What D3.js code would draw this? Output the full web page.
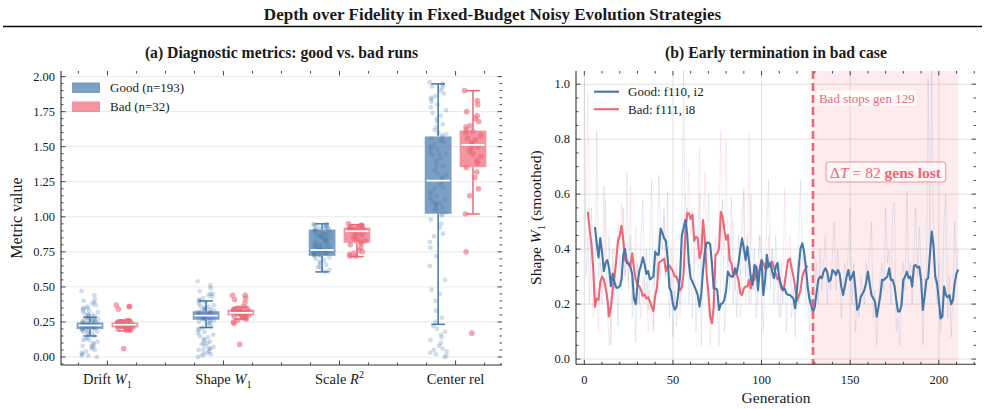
<!DOCTYPE html>
<html><head><meta charset="utf-8">
<script src="https://cdn.jsdelivr.net/npm/d3@7"></script>
<style>
body{margin:0;background:#fff}
svg{display:block}
text{font-family:"Liberation Serif","Times New Roman",serif;fill:#1a1a1a}
</style>
</head><body>
<svg id="c" width="985" height="409"></svg>
<script>
// ---------------- DATA ----------------
const categories = ["Drift $W_1$", "Shape $W_1$", "Scale $R^2$", "Center rel"];
const seriesNames = ["Good (n=193)", "Bad (n=32)"];
// box stats per category: [q1, median, q3, whiskerLow, whiskerHigh]
const goodStats = [[0.198,0.225,0.248,0.150,0.283],[0.264,0.295,0.328,0.210,0.400],[0.720,0.763,0.911,0.607,0.950],[1.020,1.258,1.575,0.233,1.948]];
const badStats  = [[0.209,0.230,0.248,0.186,0.264],[0.295,0.315,0.340,0.270,0.355],[0.813,0.897,0.925,0.716,0.944],[1.353,1.513,1.617,1.020,1.900]];
// individual run values (points)
const goodDrift = [0.47,0.44,0.41,0.40,0.39,0.38,0.37,0.36,0.35,0.34,0.33,0.33,0.32,0.31,0.30,0.30,0.29,0.29,0.28,0.28,0.27,0.27,0.27,0.26,0.26,0.26,0.25,0.25,0.25,0.25,0.24,0.24,0.24,0.24,0.23,0.23,0.23,0.23,0.23,0.22,0.22,0.22,0.22,0.22,0.21,0.21,0.21,0.21,0.20,0.20,0.20,0.20,0.19,0.19,0.18,0.18,0.17,0.17,0.16,0.15,0.14,0.13,0.12,0.11,0.10,0.09,0.08,0.07,0.06,0.05,0.04,0.03,0.02,0.01,0.01,0.00,0.12,0.08,0.35,0.30];
const badDrift = [0.37,0.36,0.36,0.34,0.26,0.26,0.25,0.25,0.25,0.24,0.24,0.24,0.23,0.23,0.23,0.23,0.22,0.22,0.22,0.22,0.21,0.21,0.21,0.20,0.20,0.20,0.19,0.19,0.25,0.24,0.22,0.06];
const goodShape = [0.54,0.51,0.49,0.47,0.45,0.44,0.43,0.42,0.41,0.40,0.39,0.38,0.37,0.36,0.36,0.35,0.35,0.34,0.34,0.33,0.33,0.33,0.32,0.32,0.32,0.31,0.31,0.31,0.30,0.30,0.30,0.30,0.29,0.29,0.29,0.29,0.28,0.28,0.28,0.27,0.27,0.27,0.26,0.26,0.25,0.25,0.24,0.23,0.22,0.21,0.20,0.19,0.18,0.17,0.16,0.15,0.14,0.13,0.12,0.11,0.10,0.09,0.08,0.07,0.06,0.06,0.05,0.04,0.03,0.02,0.01,0.00,0.30,0.28,0.32,0.45,0.40,0.10,0.05,0.02];
const badShape = [0.44,0.44,0.42,0.41,0.39,0.36,0.35,0.35,0.34,0.34,0.34,0.33,0.33,0.33,0.32,0.32,0.32,0.31,0.31,0.31,0.30,0.30,0.30,0.29,0.29,0.28,0.28,0.27,0.26,0.25,0.24,0.09];
const goodScale = [0.95,0.95,0.94,0.94,0.93,0.93,0.92,0.92,0.91,0.91,0.90,0.90,0.89,0.89,0.88,0.88,0.87,0.87,0.86,0.86,0.85,0.85,0.84,0.84,0.83,0.83,0.82,0.82,0.81,0.81,0.80,0.80,0.79,0.79,0.78,0.78,0.77,0.77,0.77,0.76,0.76,0.76,0.76,0.75,0.75,0.75,0.74,0.74,0.74,0.73,0.73,0.73,0.72,0.72,0.71,0.70,0.69,0.68,0.67,0.66,0.65,0.64,0.63,0.62,0.61,0.92,0.90,0.88,0.85,0.80,0.77,0.75,0.74,0.73,0.94,0.91,0.87,0.83,0.79,0.76];
const badScale = [0.95,0.94,0.94,0.93,0.93,0.93,0.92,0.92,0.92,0.91,0.91,0.91,0.90,0.90,0.89,0.89,0.88,0.87,0.86,0.85,0.84,0.83,0.82,0.81,0.80,0.78,0.76,0.75,0.74,0.73,0.72,0.72];
const goodCenter = [1.96,1.95,1.94,1.93,1.92,1.90,1.88,1.86,1.84,1.82,1.80,1.78,1.76,1.74,1.72,1.70,1.68,1.66,1.64,1.62,1.60,1.59,1.58,1.57,1.56,1.55,1.54,1.53,1.52,1.50,1.49,1.48,1.46,1.45,1.44,1.42,1.40,1.38,1.36,1.35,1.33,1.31,1.30,1.28,1.27,1.26,1.25,1.23,1.21,1.20,1.18,1.16,1.15,1.13,1.12,1.11,1.10,1.09,1.08,1.07,1.06,1.05,1.04,1.03,1.02,1.01,0.98,0.95,0.92,0.88,0.86,0.82,0.78,0.72,0.65,0.55,0.48,0.45,0.40,0.33,0.28,0.25,0.22,0.20,0.18,0.16,0.14,0.12,0.10,0.08,0.06,0.05,0.04,0.03,0.02,0.01,0.00,1.85,1.45,1.10];
const badCenter = [1.90,1.83,1.80,1.75,1.72,1.70,1.68,1.65,1.64,1.62,1.61,1.60,1.58,1.56,1.55,1.53,1.52,1.50,1.49,1.47,1.45,1.43,1.40,1.38,1.35,1.32,1.28,1.20,1.15,1.02,0.75,0.17];
const goodPoints = [goodDrift, goodShape, goodScale, goodCenter];
const badPoints = [badDrift, badShape, badScale, badCenter];
const leftYTicks = [0,0.25,0.5,0.75,1.0,1.25,1.5,1.75,2.0];

// panel (b): W1 per generation
const goodRawStart = 0;
const goodRaw = [1.02,0.30,0.45,0.20,0.55,0.35,0.25,0.83,0.30,0.42,
0.20,0.63,0.38,0.15,0.45,0.05,0.40,0.22,0.35,0.12,
0.38,0.25,0.55,0.30,0.68,0.28,0.45,0.15,0.30,0.06,
0.35,0.20,0.45,0.58,0.25,0.40,0.18,0.42,0.65,0.10,
0.40,0.30,0.67,0.50,0.40,0.55,0.30,0.61,0.15,0.30,
0.08,0.25,0.12,0.30,0.20,0.45,1.05,0.40,0.55,0.20,
0.35,0.15,0.40,0.10,0.30,0.60,0.05,0.35,0.45,0.30,
0.60,0.40,0.30,0.15,0.35,0.20,0.05,0.30,0.58,0.10,
0.22,0.40,0.25,0.59,0.20,0.35,0.15,0.45,0.30,0.55,
0.61,0.30,0.45,0.20,0.60,0.25,0.40,0.15,0.35,0.45,
0.30,0.10,0.35,0.50,0.65,0.25,0.40,0.20,0.45,0.30,
0.15,0.35,0.20,0.30,0.10,0.28,0.35,0.15,0.25,0.08,
0.30,0.45,0.65,0.35,0.40,0.20,0.30,0.10,0.25,0.05,
0.25,0.35,0.20,0.40,0.25,0.35,0.45,0.20,0.30,0.25,
0.38,0.50,0.25,0.40,0.30,0.15,0.25,0.35,0.30,0.40,
0.55,0.20,0.35,0.10,0.20,0.15,0.30,0.25,0.20,0.35,
0.30,0.40,0.50,0.15,0.25,0.05,0.20,0.30,0.35,0.25,
0.55,0.35,0.40,0.20,0.55,0.57,0.10,0.15,0.05,0.30,
0.35,0.25,0.61,0.30,0.35,0.20,0.40,0.55,0.30,0.48,
0.35,0.05,0.30,0.25,1.02,0.40,1.05,0.45,0.30,0.20,
0.35,0.10,0.20,0.50,0.60,0.15,0.30,0.08,0.25,0.50,
0.30,0.40];
const badRawStart = 0;
const badRaw = [0.40,0.60,0.97,0.45,0.30,0.15,0.20,0.25,0.10,0.35,
0.30,0.25,0.58,0.20,0.05,0.15,0.30,0.40,0.35,0.50,
0.40,0.57,0.45,0.30,0.35,0.25,0.63,0.20,0.30,0.48,
0.20,0.25,0.15,0.30,0.20,0.28,0.10,0.25,0.15,0.12,
0.30,0.35,0.45,0.30,0.40,0.52,0.30,0.35,0.25,0.40,
0.30,0.20,0.35,0.25,0.15,0.30,0.45,0.60,0.50,0.69,
0.45,0.55,0.40,0.35,0.50,0.77,0.30,0.45,0.68,0.25,
0.20,0.05,0.15,0.25,0.45,0.40,0.50,0.83,0.45,0.40,
0.80,0.35,0.40,0.30,0.50,0.25,0.35,0.20,0.15,0.30,
0.62,0.20,0.25,0.82,0.20,0.30,0.25,0.35,0.20,0.45,
0.40,0.30,0.35,0.25,0.45,0.30,0.40,0.35,0.25,0.20,
0.35,0.15,0.25,0.62,0.30,0.40,0.45,0.25,0.20,0.15,
0.25,0.20,0.35,0.30,0.40,0.25,0.30,0.20,0.35];
const goodSmoothStart = 6;
const goodSmooth = [0.48,0.42,0.37,0.44,0.39,0.32,0.35,0.36,0.33,0.265,
0.31,0.28,0.26,0.26,0.265,0.29,0.38,0.40,0.35,0.345,
0.335,0.31,0.22,0.20,0.27,0.32,0.34,0.37,0.345,0.31,
0.32,0.29,0.295,0.30,0.39,0.38,0.38,0.475,0.46,0.44,
0.43,0.37,0.26,0.245,0.20,0.18,0.19,0.24,0.30,0.45,
0.476,0.506,0.457,0.348,0.294,0.282,0.266,0.251,0.233,0.191,
0.239,0.324,0.391,0.423,0.424,0.418,0.348,0.257,0.257,0.251,
0.179,0.20,0.203,0.215,0.251,0.318,0.306,0.30,0.30,0.33,
0.312,0.348,0.397,0.439,0.403,0.36,0.409,0.354,0.294,0.27,
0.342,0.336,0.251,0.324,0.36,0.233,0.288,0.379,0.336,0.348,
0.318,0.294,0.336,0.35,0.29,0.27,0.251,0.257,0.239,0.233,
0.233,0.227,0.22,0.185,0.251,0.336,0.403,0.421,0.39,0.336,
0.264,0.22,0.197,0.17,0.19,0.239,0.288,0.30,0.294,0.318,
0.33,0.318,0.282,0.288,0.324,0.318,0.306,0.324,0.312,0.264,
0.233,0.264,0.30,0.324,0.288,0.30,0.318,0.251,0.179,0.191,
0.227,0.239,0.251,0.276,0.318,0.276,0.233,0.221,0.209,0.154,
0.191,0.23,0.288,0.288,0.294,0.30,0.33,0.288,0.288,0.266,
0.215,0.173,0.173,0.197,0.288,0.30,0.318,0.294,0.30,0.264,
0.339,0.342,0.333,0.336,0.288,0.179,0.227,0.288,0.294,0.379,
0.464,0.415,0.30,0.276,0.215,0.148,0.154,0.264,0.233,0.224,
0.233,0.20,0.215,0.276,0.312,0.326];
const badSmoothStart = 2;
const badSmooth = [0.536,0.47,0.42,0.33,0.19,0.22,0.215,0.28,0.30,0.29,
0.26,0.22,0.155,0.19,0.25,0.30,0.36,0.43,0.45,0.485,
0.43,0.36,0.355,0.35,0.34,0.385,0.33,0.29,0.27,0.265,
0.25,0.23,0.235,0.22,0.225,0.21,0.19,0.175,0.23,0.26,
0.35,0.355,0.36,0.365,0.32,0.34,0.34,0.33,0.32,0.30,
0.30,0.28,0.25,0.26,0.31,0.46,0.53,0.53,0.51,0.525,
0.43,0.445,0.44,0.367,0.39,0.506,0.434,0.312,0.239,0.154,
0.13,0.19,0.379,0.385,0.40,0.536,0.518,0.47,0.434,0.452,
0.36,0.348,0.306,0.312,0.306,0.288,0.239,0.233,0.257,0.264,
0.264,0.288,0.257,0.306,0.288,0.336,0.30,0.33,0.36,0.35,
0.33,0.33,0.34,0.35,0.355,0.33,0.31,0.29,0.30,0.26,
0.25,0.27,0.32,0.36,0.365,0.33,0.30,0.26,0.21,0.23,
0.25,0.30,0.32,0.33,0.34];
const lineNames = ["Good: f110, i2", "Bad: f111, i8"];
const stopGen = 129;
const endGen = 211;
const rightYTicks = [0,0.2,0.4,0.6,0.8,1.0];
const rightXTicks = [0,50,100,150,200];

// ---------------- DRAW ----------------
const BLUE = "#4477AA", RED = "#EE6677", INK = "#333";
const svg = d3.select("#c");

function rich(sel, s, fs) {
  let math = false, shift = 0; const segs = [];
  for (let i = 0; i < s.length; i++) {
    const c = s[i];
    if (c === "$") { math = !math; continue; }
    if (math && (c === "_" || c === "^")) { segs.push({t: s[i+1], mode: c === "_" ? "sub" : "sup"}); i++; continue; }
    const it = math && /[A-Za-z]/.test(c);
    const last = segs[segs.length-1];
    if (last && last.mode === "n" && last.it === it) last.t += c; else segs.push({t: c, mode: "n", it});
  }
  segs.forEach(g => {
    const ts = sel.append("tspan").text(g.t);
    const target = g.mode === "sub" ? 0.28*fs : g.mode === "sup" ? -0.38*fs : 0;
    if (target - shift !== 0) ts.attr("dy", target - shift);
    shift = target;
    if (g.mode !== "n") ts.attr("font-size", fs*0.7);
    if (g.it) ts.attr("font-style", "italic");
  });
}

// Title
svg.append("text").attr("x", 492.5).attr("y", 20).attr("text-anchor","middle")
  .attr("font-size", 17).attr("font-weight","bold").text("Depth over Fidelity in Fixed-Budget Noisy Evolution Strategies");
svg.append("line").attr("x1", 3).attr("x2", 982).attr("y1", 26.5).attr("y2", 26.5).attr("stroke","#000").attr("stroke-width",1.6);

function ticksAll(g, x, y, xMaj, xMin, yMaj, yMin, x0, x1, y0, y1) {
  const M = 4.5, m = 2.5;
  const t = g.append("g").attr("stroke", INK).attr("stroke-width", 0.9);
  yMaj.forEach(v => { t.append("line").attr("x1",x0).attr("x2",x0+M).attr("y1",y(v)).attr("y2",y(v));
                      t.append("line").attr("x1",x1).attr("x2",x1-M).attr("y1",y(v)).attr("y2",y(v)); });
  yMin.forEach(v => { t.append("line").attr("x1",x0).attr("x2",x0+m).attr("y1",y(v)).attr("y2",y(v));
                      t.append("line").attr("x1",x1).attr("x2",x1-m).attr("y1",y(v)).attr("y2",y(v)); });
  xMaj.forEach(v => { t.append("line").attr("y1",y0).attr("y2",y0-M).attr("x1",x(v)).attr("x2",x(v));
                      t.append("line").attr("y1",y1).attr("y2",y1+M).attr("x1",x(v)).attr("x2",x(v)); });
  xMin.forEach(v => { t.append("line").attr("y1",y0).attr("y2",y0-m).attr("x1",x(v)).attr("x2",x(v));
                      t.append("line").attr("y1",y1).attr("y2",y1+m).attr("x1",x(v)).attr("x2",x(v)); });
  g.append("line").attr("x1",x0).attr("x2",x0).attr("y1",y0).attr("y2",y1).attr("stroke",INK).attr("stroke-width",1.1);
  g.append("line").attr("x1",x0).attr("x2",x1).attr("y1",y0).attr("y2",y0).attr("stroke",INK).attr("stroke-width",1.1);
}

// ---------- Panel (a) ----------
{
  const L = 61, R = 502, T = 71, B = 365;
  const x = d3.scaleLinear().domain([-0.4, 3.4]).range([L, R]);
  const y = d3.scaleLinear().domain([-0.057, 2.04]).range([B, T]);
  const g = svg.append("g");
  g.append("text").attr("x", (L+R)/2).attr("y", 57.5).attr("text-anchor","middle").attr("font-size",15.7).attr("font-weight","bold")
    .text("(a) Diagnostic metrics: good vs. bad runs");
  leftYTicks.forEach(v => g.append("line").attr("x1",L).attr("x2",R).attr("y1",y(v)).attr("y2",y(v)).attr("stroke","#e8e8e8").attr("stroke-width",1));
  const off = 0.15, bw = 0.235, pxw = x(bw) - x(0);
  const jit = i => (((i * 0.6180339887) + ((i*i) % 7) * 0.137) % 1) - 0.5;
  function drawGroup(stats, pts, col, sign, r, op) {
    stats.forEach((s, ci) => {
      const cx = x(ci + sign*off);
      g.append("rect").attr("x", cx - pxw/2).attr("y", y(s[2])).attr("width", pxw).attr("height", y(s[0]) - y(s[2]))
        .attr("fill", col).attr("fill-opacity", 0.7).attr("stroke", "#fff").attr("stroke-opacity",0.6).attr("stroke-width", 0.8);
      g.selectAll(null).data(pts[ci]).enter().append("circle")
        .attr("cx", (d,i) => cx + jit(i) * pxw * 0.62).attr("cy", d => y(d)).attr("r", r)
        .attr("fill", col).attr("fill-opacity", op);
      const cap = pxw * 0.5;
      g.append("line").attr("x1",cx).attr("x2",cx).attr("y1",y(s[2])).attr("y2",y(s[4])).attr("stroke",col).attr("stroke-width",1.5);
      g.append("line").attr("x1",cx).attr("x2",cx).attr("y1",y(s[0])).attr("y2",y(s[3])).attr("stroke",col).attr("stroke-width",1.5);
      g.append("line").attr("x1",cx-cap/2).attr("x2",cx+cap/2).attr("y1",y(s[4])).attr("y2",y(s[4])).attr("stroke",col).attr("stroke-width",1.5);
      g.append("line").attr("x1",cx-cap/2).attr("x2",cx+cap/2).attr("y1",y(s[3])).attr("y2",y(s[3])).attr("stroke",col).attr("stroke-width",1.5);
      g.append("line").attr("x1",cx-pxw/2+2).attr("x2",cx+pxw/2-2).attr("y1",y(s[1])).attr("y2",y(s[1])).attr("stroke","#fff").attr("stroke-width",1.8);
    });
  }
  drawGroup(goodStats, goodPoints, BLUE, -1, 2.4, 0.25);
  drawGroup(badStats, badPoints, RED, 1, 2.8, 0.6);
  const xMin = d3.range(-0.25, 3.3, 0.25).filter(v => Math.abs(v - Math.round(v)) > 0.01);
  const yMin = d3.range(-0.05, 2.03, 0.05).filter(v => Math.abs(v/0.25 - Math.round(v/0.25)) > 0.01);
  ticksAll(g, x, y, [0,1,2,3], xMin, leftYTicks, yMin, L, R, B, T);
  leftYTicks.forEach(v => g.append("text").attr("x", L-6).attr("y", y(v)+4.3).attr("text-anchor","end").attr("font-size",12.5).text(v.toFixed(2)));
  categories.forEach((c, i) => { const t = g.append("text").attr("x", x(i)).attr("y", 384).attr("text-anchor","middle").attr("font-size",14.5); rich(t, c, 14.5); });
  g.append("text").attr("transform", `translate(22,${(T+B)/2}) rotate(-90)`).attr("text-anchor","middle").attr("font-size",16).text("Metric value");
  // legend
  [BLUE, RED].forEach((col, i) => {
    g.append("rect").attr("x", 72).attr("y", 82.5 + i*19).attr("width", 28).attr("height", 10.5).attr("fill", col).attr("fill-opacity",0.7);
    g.append("text").attr("x", 110).attr("y", 92.3 + i*19).attr("font-size", 13).text(seriesNames[i]);
  });
}

// ---------- Panel (b) ----------
{
  const L = 576, R = 976, T = 71, B = 364.3;
  const x = d3.scaleLinear().domain([-4.7, 221]).range([L, R]);
  const y = d3.scaleLinear().domain([-0.019, 1.048]).range([B, T]);
  const g = svg.append("g");
  g.append("text").attr("x", (L+R)/2).attr("y", 57.5).attr("text-anchor","middle").attr("font-size",15.7).attr("font-weight","bold")
    .text("(b) Early termination in bad case");
  rightYTicks.forEach(v => g.append("line").attr("x1",L).attr("x2",R).attr("y1",y(v)).attr("y2",y(v)).attr("stroke","#dedede").attr("stroke-width",0.9));
  rightXTicks.forEach(v => g.append("line").attr("y1",T).attr("y2",B).attr("x1",x(v)).attr("x2",x(v)).attr("stroke","#dedede").attr("stroke-width",0.9));
  g.append("rect").attr("x", x(stopGen)).attr("y", T).attr("width", x(endGen) - x(stopGen)).attr("height", B - T).attr("fill", RED).attr("fill-opacity", 0.13);
  const line = (start) => d3.line().x((d,i) => x(start + i)).y(d => y(d));
  g.append("path").attr("d", line(goodRawStart)(goodRaw)).attr("fill","none").attr("stroke",BLUE).attr("stroke-opacity",0.13).attr("stroke-width",1);
  g.append("path").attr("d", line(badRawStart)(badRaw)).attr("fill","none").attr("stroke",RED).attr("stroke-opacity",0.13).attr("stroke-width",1);
  g.append("path").attr("d", line(badSmoothStart)(badSmooth)).attr("fill","none").attr("stroke",RED).attr("stroke-width",2.1).attr("stroke-linejoin","round");
  g.append("path").attr("d", line(goodSmoothStart)(goodSmooth)).attr("fill","none").attr("stroke",BLUE).attr("stroke-width",2.1).attr("stroke-linejoin","round");
  g.append("line").attr("x1", x(stopGen)).attr("x2", x(stopGen)).attr("y1", T).attr("y2", B).attr("stroke", RED).attr("stroke-width", 2.6).attr("stroke-dasharray","8,4");
  // annotations
  const t1 = g.append("text").attr("x", x(stopGen) + 6).attr("y", 102.5).attr("font-size", 13).style("fill", RED).text("Bad stops gen " + stopGen);
  const b1 = t1.node().getBBox();
  g.insert("rect", () => t1.node()).attr("x", b1.x - 2).attr("y", b1.y).attr("width", b1.width + 4).attr("height", b1.height).attr("fill", "#fff").attr("fill-opacity", 0.85);
  const t2 = g.append("text").attr("x", 885.5).attr("y", 177.5).attr("text-anchor","middle").attr("font-size", 15.5).style("fill", RED);
  t2.append("tspan").text("Δ");
  t2.append("tspan").attr("font-style","italic").text("T");
  t2.append("tspan").text(" = " + (endGen - stopGen) + " ");
  t2.append("tspan").attr("font-weight","bold").text("gens lost");
  const b2 = t2.node().getBBox();
  g.insert("rect", () => t2.node()).attr("x", b2.x - 4).attr("y", b2.y - 1.5).attr("width", b2.width + 8).attr("height", b2.height + 3).attr("rx", 3)
    .attr("fill", "#fff").attr("fill-opacity", 0.6).attr("stroke", RED).attr("stroke-opacity", 0.7).attr("stroke-width", 1);
  // ticks
  const xMin = d3.range(-0, 221, 10).filter(v => v % 50 !== 0);
  const yMin = d3.range(0.05, 1.04, 0.05).filter(v => Math.abs(v/0.2 - Math.round(v/0.2)) > 0.01);
  ticksAll(g, x, y, rightXTicks, xMin, rightYTicks, yMin, L, R, B, T);
  rightYTicks.forEach(v => g.append("text").attr("x", L-6).attr("y", y(v)+4.3).attr("text-anchor","end").attr("font-size",12.5).text(v.toFixed(1)));
  rightXTicks.forEach(v => g.append("text").attr("x", x(v)).attr("y", 384).attr("text-anchor","middle").attr("font-size",12.5).text(v));
  const yl = g.append("text").attr("transform", `translate(541,${(T+B)/2}) rotate(-90)`).attr("text-anchor","middle").attr("font-size",15.5);
  rich(yl, "Shape $W_1$ (smoothed)", 15.5);
  g.append("text").attr("x", (L+R)/2).attr("y", 403).attr("text-anchor","middle").attr("font-size",15.5).text("Generation");
  // legend
  [BLUE, RED].forEach((col, i) => {
    g.append("line").attr("x1", 594).attr("x2", 619).attr("y1", 91.7 + i*17.5).attr("y2", 91.7 + i*17.5).attr("stroke", col).attr("stroke-width", 2.1);
    g.append("text").attr("x", 628).attr("y", 96 + i*17.5).attr("font-size", 13).text(lineNames[i]);
  });
}
</script>
</body></html>
